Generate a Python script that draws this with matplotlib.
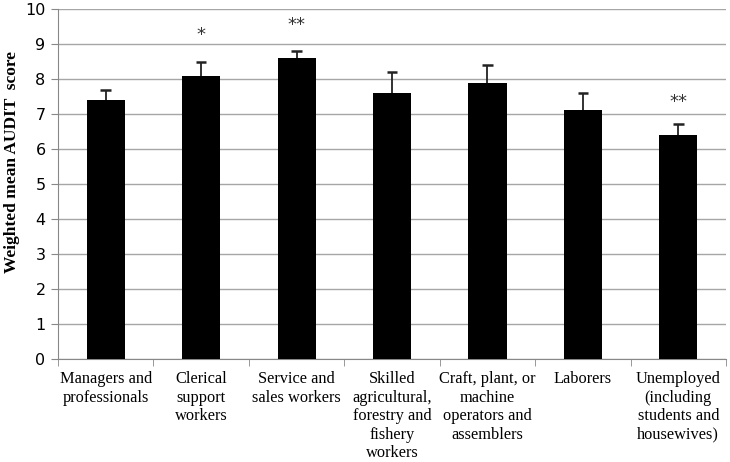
import matplotlib
matplotlib.use('Agg')
import matplotlib.pyplot as plt
import numpy as np

categories = [
    "Managers and\nprofessionals",
    "Clerical\nsupport\nworkers",
    "Service and\nsales workers",
    "Skilled\nagricultural,\nforestry and\nfishery\nworkers",
    "Craft, plant, or\nmachine\noperators and\nassemblers",
    "Laborers",
    "Unemployed\n(including\nstudents and\nhousewives)",
]
means = [7.4, 8.1, 8.6, 7.6, 7.9, 7.1, 6.4]
errors = [0.3, 0.4, 0.2, 0.6, 0.5, 0.5, 0.3]
stars = ["", "*", "**", "", "", "", "**"]
star_y = [None, 9.25, 9.55, None, None, None, 7.35]

fig = plt.figure(figsize=(7.30, 4.62), dpi=100)
ax = fig.add_axes([0.0795, 0.223, 0.915, 0.7575])

x = np.arange(len(categories))
means_arr = np.array(means)
tops = means_arr + np.array(errors)
ax.bar(x, means, width=0.4, color='black', zorder=3)
# upper-only error bars
ax.vlines(x, means_arr, tops, color='#222222', linewidth=1.3, zorder=4)
ax.hlines(tops, x - 0.055, x + 0.055, color='#222222', linewidth=1.8, zorder=4)

for i, s in enumerate(stars):
    if s:
        ax.text(x[i], star_y[i], s, ha='center', va='center', fontsize=13,
                color='#333333', family='DejaVu Sans')

ax.set_xlim(-0.5, len(categories) - 0.5)
ax.set_ylim(0, 10)
ax.set_yticks(range(0, 11))
ax.yaxis.grid(True, color='#a6a6a6', linewidth=1)
ax.set_axisbelow(True)

ax.set_xticks(x)
ax.set_xticklabels(categories, family='Liberation Serif', fontsize=11.8, linespacing=1.2)
ax.set_xticks(np.arange(-0.5, len(categories)), minor=True)
ax.tick_params(axis='x', which='major', length=0, pad=9)
ax.tick_params(axis='x', which='minor', length=5, color='#888888')
ax.tick_params(axis='y', length=5, color='#888888', labelsize=11.5, pad=4)
for lab in ax.get_yticklabels():
    lab.set_family('DejaVu Sans')

for side in ['top', 'right']:
    ax.spines[side].set_visible(False)
ax.spines['left'].set_color('#888888')
ax.spines['bottom'].set_color('#888888')

ax.set_ylabel('Weighted mean AUDIT  score', family='Liberation Serif',
              fontweight='bold', fontsize=12.5)
ax.yaxis.set_label_coords(-0.057, 0.563)

fig.savefig('out.png', dpi=100)
